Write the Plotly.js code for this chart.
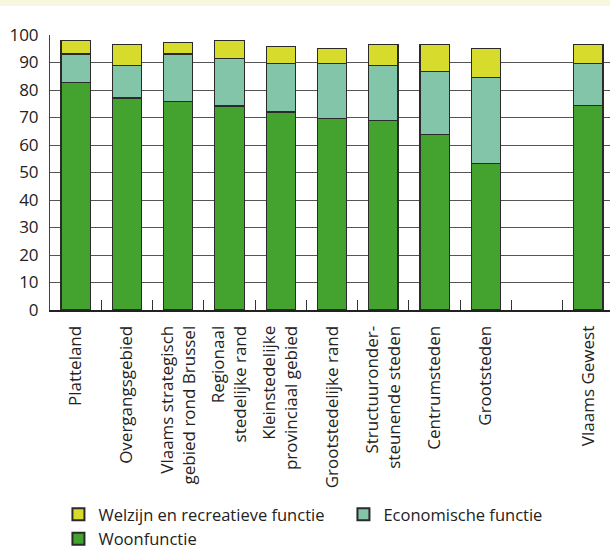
<!DOCTYPE html>
<html>
<head>
<meta charset="utf-8">
<script src="https://cdn.plot.ly/plotly-3.0.1.min.js"></script>
<style>
html,body{margin:0;padding:0;background:#fff;overflow:hidden;}
#band{position:absolute;left:0;top:0;width:610px;height:6px;background:#F7F6DF;}
#chart{position:absolute;left:0;top:0;width:610px;height:552px;}
</style>
</head>
<body>
<div id="chart"></div>
<div id="band"></div>
<script>
var categories = [
  "Platteland",
  "Overgangsgebied",
  "Vlaams strategisch<br>gebied rond Brussel",
  "Regionaal<br>stedelijke rand",
  "Kleinstedelijke<br>provinciaal gebied",
  "Grootstedelijke rand",
  "Structuuronder-<br>steunende steden",
  "Centrumsteden",
  "Grootsteden",
  " ",
  "Vlaams Gewest"
];
var woonfunctie   = [82.8, 77.1, 75.9, 74.2, 72.0, 69.7, 69.0, 63.8, 53.3, null, 74.3];
var economische   = [10.3, 11.7, 17.2, 17.2, 17.7, 20.0, 19.8, 22.9, 31.3, null, 15.4];
var welzijn       = [5.0, 7.8, 4.2, 6.7, 6.2, 5.5, 7.8, 9.9, 10.6, null, 6.9];
var seriesNames = ["Woonfunctie", "Economische functie", "Welzijn en recreatieve functie"];
var yTicks = [0,10,20,30,40,50,60,70,80,90,100];

var font = {family: "Open Sans, sans-serif", size: 17, color: "#222"};
var legendFont = {family: "Open Sans, sans-serif", size: 16.5, color: "#222"};
var outline = {color: "#2a2a2a", width: 1.2};

var data = [
  {type: "bar", name: seriesNames[0], x: categories, y: woonfunctie, marker: {color: "#43A32E", line: outline}},
  {type: "bar", name: seriesNames[1], x: categories, y: economische, marker: {color: "#83C5A8", line: outline}},
  {type: "bar", name: seriesNames[2], x: categories, y: welzijn, marker: {color: "#D6DB2C", line: outline}}
];

var layout = {
  width: 610, height: 552,
  margin: {l: 50, r: 0, t: 35, b: 242, autoexpand: false},
  paper_bgcolor: "#fff", plot_bgcolor: "#fff",
  font: font,
  barmode: "stack",
  bargap: 0.43,
  showlegend: true,
  hovermode: false,
  xaxis: {
    type: "category",
    categoryorder: "array", categoryarray: categories,
    range: [-0.5, 10.42],
    tickangle: -90,
    ticks: "inside", ticklen: 10, tickwidth: 1, tickcolor: "#333",
    tickson: "boundaries",
    showgrid: false,
    showline: true, linecolor: "#222", linewidth: 2,
    ticklabelstandoff: 7,
    tickfont: font,
    zeroline: false,
    automargin: false
  },
  yaxis: {
    range: [0, 100],
    tickvals: yTicks,
    ticks: "",
    showgrid: true, gridcolor: "#555", gridwidth: 1,
    showline: true, linecolor: "#444", linewidth: 1,
    zeroline: false,
    ticklabelstandoff: 7,
    tickfont: font,
    automargin: false
  },
  legend: {
    orientation: "h",
    x: -0.001, xanchor: "left",
    y: -0.68, yanchor: "top",
    indentation: 9,
    traceorder: "reversed",
    entrywidth: 231,
    font: legendFont,
    itemsizing: "constant",
    tracegroupgap: 0
  }
};

Plotly.newPlot("chart", data, layout, {displayModeBar: false, staticPlot: true});
</script>
</body>
</html>
